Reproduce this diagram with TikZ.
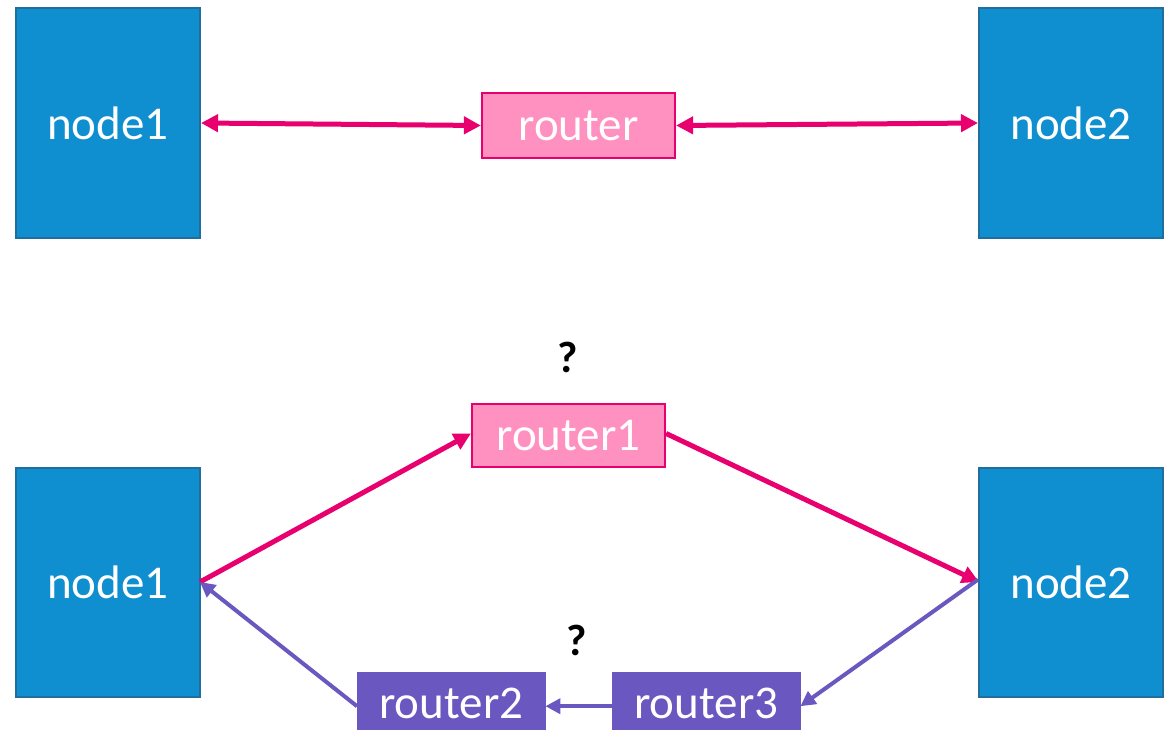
\documentclass[tikz,border=0pt]{standalone}
\usepackage{fontspec}
\setmainfont{Carlito}
\usetikzlibrary{arrows.meta}
\definecolor{hostblue}{HTML}{0F8FD0}
\definecolor{hostedge}{HTML}{1F6E9E}
\definecolor{pinkfill}{HTML}{FF91C1}
\definecolor{pinkline}{HTML}{E8006E}
\definecolor{purplebox}{HTML}{6A57C0}
\tikzset{
  host/.style={draw=hostedge, line width=2pt, fill=hostblue, text=white,
    minimum width=184pt, minimum height=229pt, inner sep=0pt, font=\fontsize{47}{54}\selectfont},
  pinkrouter/.style={draw=pinkline, line width=2.2pt, fill=pinkfill, text=white,
    inner sep=0pt, font=\fontsize{47}{54}\selectfont},
  purplerouter/.style={draw=purplebox, fill=purplebox, text=white,
    inner sep=0pt, font=\fontsize{47}{54}\selectfont},
  pinktip/.style={},
  pinklink/.style={draw=pinkline, line width=5pt, -{Triangle[length=17pt,width=17pt]}},
  purplelink/.style={draw=purplebox, line width=4pt, -{Triangle[length=15pt,width=15pt]}},
  qmark/.style={font=\bfseries\fontsize{44}{48}\selectfont, text=black}
}
\begin{document}
\begin{tikzpicture}[x=1pt,y=-1pt]
\useasboundingbox (0,0) rectangle (1174,730);
% upper diagram: one router between two hosts
\node[host] (a1) at (108,123) {node1};
\node[host] (b1) at (1071,123) {node2};
\node[pinkrouter, minimum width=193pt, minimum height=65pt] (r) at (578.5,125.5) {router};
\draw[pinklink, {Triangle[length=17pt,width=17pt]}-{Triangle[length=17pt,width=17pt]}] (a1.east) -- (r.west);
\draw[pinklink, {Triangle[length=17pt,width=17pt]}-{Triangle[length=17pt,width=17pt]}] (r.east) -- (b1.west);
% lower diagram: asymmetric paths
\node[host] (a2) at (108,582.5) {node1};
\node[host] (b2) at (1071,582.5) {node2};
\node[pinkrouter, minimum width=193pt, minimum height=63pt] (r1) at (568.5,435.5) {router1};
\node[purplerouter, minimum width=188pt, minimum height=62pt, anchor=north west] (r2) at (357,672) {router2};
\node[purplerouter, minimum width=188pt, minimum height=62pt, anchor=north west] (r3) at (612,672) {router3};
\node[qmark] (q1) at (568,357) {?};
\node[qmark] (q2) at (577,640) {?};
\coordinate (a2e) at (200,582);
\coordinate (b2w) at (979,582);
\draw[pinklink] (a2e) -- ([yshift=2pt]r1.west);
\draw[pinklink] ([yshift=2pt]r1.east) -- (b2w);
\draw[purplelink] ([yshift=3pt]b2.west) -- ([yshift=-3pt]r3.east);
\draw[purplelink] ([yshift=-3pt]r3.west) -- ([yshift=-3pt]r2.east);
\draw[purplelink] ([yshift=-3pt]r2.west) -- (a2e);
\end{tikzpicture}
\end{document}
